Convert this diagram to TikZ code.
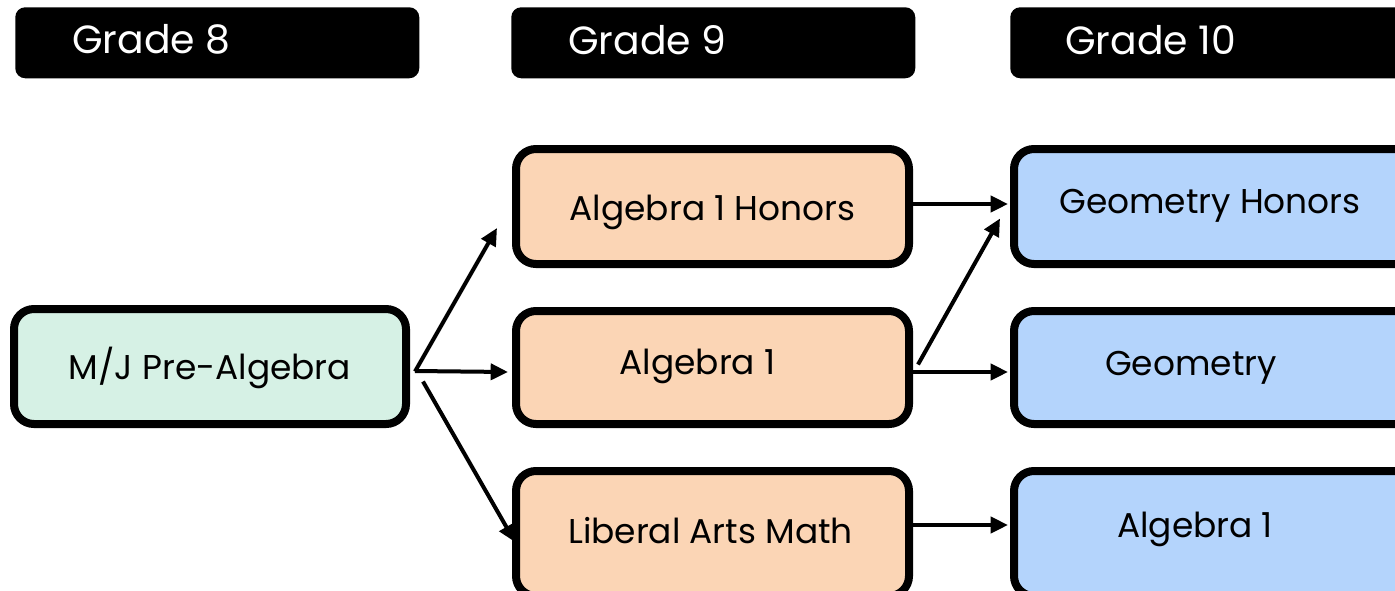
\documentclass[tikz,border=0pt]{standalone}
\usepackage{fontspec}
\setmainfont{Poppins}
\usetikzlibrary{arrows.meta}
\definecolor{cgreen}{RGB}{214,241,229}
\definecolor{cpeach}{RGB}{251,213,181}
\definecolor{cblue}{RGB}{180,212,252}
\tikzset{
  hdr/.style={fill=black, rounded corners=7.5pt, inner sep=0pt,
    minimum width=404*0.75pt, minimum height=71*0.75pt, anchor=north west},
  hdrtext/.style={text=white, inner sep=0pt, anchor=west, font=\fontsize{29.5pt}{32pt}\selectfont},
  course/.style={draw=black, line width=6pt, rounded corners=15pt, inner sep=0pt},
  ctext/.style={inner sep=0pt, font=\fontsize{25.8pt}{30pt}\selectfont},
  arr/.style={line width=3pt, -{Triangle[length=13pt,width=12pt]}}
}
\begin{document}
\begin{tikzpicture}[x=0.75pt,y=-0.75pt]
\useasboundingbox (0,0) rectangle (1395,590);
\clip (0,0) rectangle (1395,590);
% headers
\node[hdr] (g8) at (15,7) {};
\node[hdr] (g9) at (511,7) {};
\node[hdr] (g10) at (1010,7) {};
\node[hdrtext] (g8t) at ([shift={(57,-3)}]g8.west) {Grade 8};
\node[hdrtext] (g9t) at ([shift={(57,-3)}]g9.west) {Grade 9};
\node[hdrtext] (g10t) at ([shift={(55,-3)}]g10.west) {Grade 10};
% courses
\node[course, fill=cgreen, minimum width=392*0.75pt, minimum height=115*0.75pt] (pre) at (210,366.5) {};
\node[course, fill=cpeach, minimum width=393*0.75pt, minimum height=115*0.75pt] (h1) at (712.5,206.5) {};
\node[course, fill=cpeach, minimum width=393*0.75pt, minimum height=113*0.75pt] (a1) at (712.5,367.5) {};
\node[course, fill=cpeach, minimum width=393*0.75pt, minimum height=125*0.75pt] (lam) at (712.5,533.5) {};
\node[course, fill=cblue, minimum width=402*0.75pt, minimum height=115*0.75pt] (gh) at (1215,206.5) {};
\node[course, fill=cblue, minimum width=402*0.75pt, minimum height=113*0.75pt] (geo) at (1215,367.5) {};
\node[course, fill=cblue, minimum width=402*0.75pt, minimum height=125*0.75pt] (a10) at (1215,533.5) {};
% course texts
\node[ctext] (pret) at ([shift={(0,1)}]pre.center) {M/J Pre-Algebra};
\node[ctext] (h1t) at ([shift={(0,6)}]h1.center) {Algebra 1 Honors};
\node[ctext] (a1t) at ([shift={(-15,-1)}]a1.center) {Algebra 1};
\node[ctext] (lamt) at ([shift={(-2,-3)}]lam.center) {Liberal Arts Math};
\node[ctext] (ght) at ([shift={(-5,-1)}]gh.center) {Geometry Honors};
\node[ctext] (geot) at ([shift={(-24,0)}]geo.center) {Geometry};
\node[ctext] (a10t) at ([shift={(-20,-4)}]a10.center) {Algebra 1};
% arrows
\draw[arr] ([shift={(5,5)}]pre.east) -- ([shift={(-15,21.5)}]h1.west);
\draw[arr] ([shift={(5,4.5)}]pre.east) -- ([shift={(-4,4.5)}]a1.west);
\draw[arr] ([shift={(13,15)}]pre.east) -- ([shift={(3,8.5)}]lam.west);
\draw[arr] ([shift={(0,-2.5)}]h1.east) -- ([shift={(-2,-2.5)}]gh.west);
\draw[arr] ([shift={(5,-3)}]a1.east) -- ([shift={(-10,12)}]gh.west);
\draw[arr] ([shift={(0,4.5)}]a1.east) -- ([shift={(-2,4.5)}]geo.west);
\draw[arr] ([shift={(0,-8.5)}]lam.east) -- ([shift={(-2,-8.5)}]a10.west);
\end{tikzpicture}
\end{document}
